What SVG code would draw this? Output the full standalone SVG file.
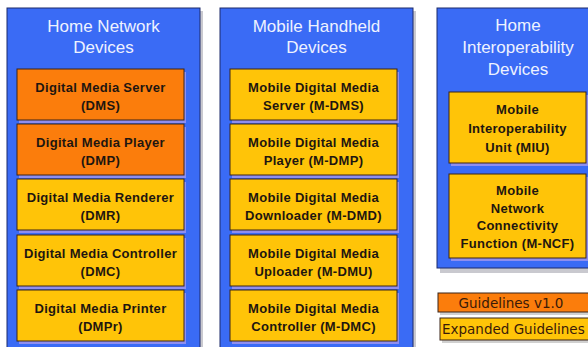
<svg xmlns="http://www.w3.org/2000/svg" width="588" height="347" viewBox="0 0 588 347">
<style>
.bg{fill:#ffffff}
.pshadow{fill:#c9c9cf}
.panel{fill:#3a6bf5;stroke:#1c2a6a;stroke-width:1}
.title{font-family:"Liberation Sans",Arial,sans-serif;font-size:17px;fill:#eef2ff;text-anchor:middle}
.bshadow{fill:#8e8ef0}
.orange{fill:#fb7d0c;stroke:#3a2418;stroke-width:1}
.yellow{fill:#ffc408;stroke:#3a2418;stroke-width:1}
.lbl{font-family:"Liberation Sans",Arial,sans-serif;font-size:13px;font-weight:bold;fill:#1e1610;text-anchor:middle;letter-spacing:0.3px}
.leg{font-family:"DejaVu Sans",Verdana,sans-serif;font-size:13.5px;fill:#3a1a08}
.lshadow{fill:#d0d0d0}
</style>
<rect class="bg" x="0" y="0" width="588" height="347"/>

<g id="panel-home-network">
<rect class="pshadow" x="10" y="11" width="193" height="345"/>
<rect class="panel" x="7" y="8" width="193" height="345"/>
<text class="title" x="103.5" y="32">Home Network</text>
<text class="title" x="103.5" y="53">Devices</text>
</g>
<g id="panel-mobile-handheld">
<rect class="pshadow" x="223" y="11" width="193" height="345"/>
<rect class="panel" x="220" y="8" width="193" height="345"/>
<text class="title" x="316.5" y="32">Mobile Handheld</text>
<text class="title" x="316.5" y="53">Devices</text>
</g>
<g id="panel-home-interop">
<rect class="pshadow" x="440" y="11" width="160" height="262"/>
<rect class="panel" x="437" y="8" width="160" height="260"/>
<text class="title" x="518" y="31">Home</text>
<text class="title" x="518" y="53">Interoperability</text>
<text class="title" x="518" y="75">Devices</text>
</g>

<g id="dms">
<rect class="bshadow" x="19" y="72" width="167" height="51"/>
<rect class="orange" x="17" y="69" width="167" height="51"/>
<text class="lbl" x="100.5" y="92">Digital Media Server</text>
<text class="lbl" x="100.5" y="110">(DMS)</text>
</g>
<g id="dmp">
<rect class="bshadow" x="19" y="127" width="167" height="51"/>
<rect class="orange" x="17" y="124" width="167" height="51"/>
<text class="lbl" x="100.5" y="147">Digital Media Player</text>
<text class="lbl" x="100.5" y="165">(DMP)</text>
</g>
<g id="dmr">
<rect class="bshadow" x="19" y="182" width="167" height="51"/>
<rect class="yellow" x="17" y="179" width="167" height="51"/>
<text class="lbl" x="100.5" y="202">Digital Media Renderer</text>
<text class="lbl" x="100.5" y="220">(DMR)</text>
</g>
<g id="dmc">
<rect class="bshadow" x="19" y="238" width="167" height="51"/>
<rect class="yellow" x="17" y="235" width="167" height="51"/>
<text class="lbl" x="100.5" y="258">Digital Media Controller</text>
<text class="lbl" x="100.5" y="276">(DMC)</text>
</g>
<g id="dmpr">
<rect class="bshadow" x="19" y="293" width="167" height="51"/>
<rect class="yellow" x="17" y="290" width="167" height="51"/>
<text class="lbl" x="100.5" y="313">Digital Media Printer</text>
<text class="lbl" x="100.5" y="331">(DMPr)</text>
</g>

<g id="m-dms">
<rect class="bshadow" x="232" y="72" width="167" height="51"/>
<rect class="yellow" x="230" y="69" width="167" height="51"/>
<text class="lbl" x="313.5" y="92">Mobile Digital Media</text>
<text class="lbl" x="313.5" y="110">Server (M-DMS)</text>
</g>
<g id="m-dmp">
<rect class="bshadow" x="232" y="127" width="167" height="51"/>
<rect class="yellow" x="230" y="124" width="167" height="51"/>
<text class="lbl" x="313.5" y="147">Mobile Digital Media</text>
<text class="lbl" x="313.5" y="165">Player (M-DMP)</text>
</g>
<g id="m-dmd">
<rect class="bshadow" x="232" y="182" width="167" height="51"/>
<rect class="yellow" x="230" y="179" width="167" height="51"/>
<text class="lbl" x="313.5" y="202">Mobile Digital Media</text>
<text class="lbl" x="313.5" y="220">Downloader (M-DMD)</text>
</g>
<g id="m-dmu">
<rect class="bshadow" x="232" y="238" width="167" height="51"/>
<rect class="yellow" x="230" y="235" width="167" height="51"/>
<text class="lbl" x="313.5" y="258">Mobile Digital Media</text>
<text class="lbl" x="313.5" y="276">Uploader (M-DMU)</text>
</g>
<g id="m-dmc">
<rect class="bshadow" x="232" y="293" width="167" height="51"/>
<rect class="yellow" x="230" y="290" width="167" height="51"/>
<text class="lbl" x="313.5" y="313">Mobile Digital Media</text>
<text class="lbl" x="313.5" y="331">Controller (M-DMC)</text>
</g>

<g id="miu">
<rect class="bshadow" x="451" y="95" width="137" height="71"/>
<rect class="yellow" x="449" y="92" width="137" height="71"/>
<text class="lbl" x="517.5" y="114">Mobile</text>
<text class="lbl" x="517.5" y="133">Interoperability</text>
<text class="lbl" x="517.5" y="152">Unit (MIU)</text>
</g>
<g id="m-ncf">
<rect class="bshadow" x="451" y="177" width="137" height="84"/>
<rect class="yellow" x="449" y="174" width="137" height="84"/>
<text class="lbl" x="517.5" y="195">Mobile</text>
<text class="lbl" x="517.5" y="212.5">Network</text>
<text class="lbl" x="517.5" y="230">Connectivity</text>
<text class="lbl" x="517.5" y="247.5">Function (M-NCF)</text>
</g>

<g id="legend-guidelines">
<rect class="lshadow" x="440" y="295" width="160" height="20"/>
<rect class="orange" x="438" y="293" width="160" height="19"/>
<text class="leg" x="511" y="307.5" text-anchor="middle">Guidelines v1.0</text>
</g>
<g id="legend-expanded">
<rect class="lshadow" x="442" y="321" width="160" height="22"/>
<rect class="yellow" x="440" y="318" width="160" height="22"/>
<text class="leg" x="442" y="333.5">Expanded Guidelines</text>
</g>

<g id="connectors"></g>
</svg>
